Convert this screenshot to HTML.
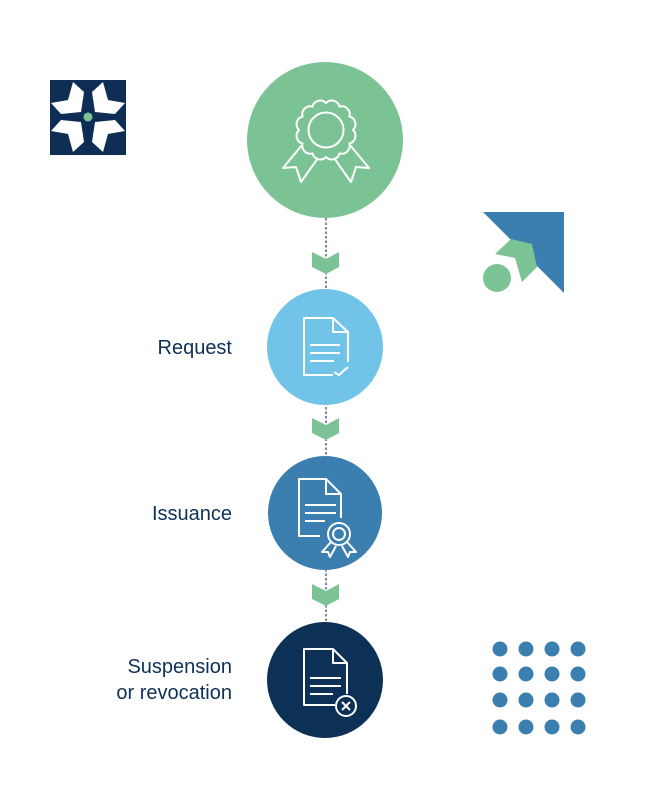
<!DOCTYPE html>
<html><head><meta charset="utf-8"><style>
html,body{margin:0;padding:0;background:#fff}
svg{display:block}
text{font-family:"Liberation Sans",sans-serif;fill:#0d3057;font-size:20px}
</style></head><body>
<svg width="650" height="800" viewBox="0 0 650 800" xmlns="http://www.w3.org/2000/svg">
<rect x="50" y="80" width="76" height="75" fill="#0d2d55"/>
<g fill="#fff">
<polygon id="p" points="73,82 84,92 81,112 61,114 51,103 68,100"/>
<use href="#p" transform="translate(176,0) scale(-1,1)"/>
<use href="#p" transform="translate(0,234) scale(1,-1)"/>
<use href="#p" transform="translate(176,234) scale(-1,-1)"/>
</g>
<circle cx="88" cy="117" r="4.5" fill="#7bc395"/>
<polygon points="483,212 564,212 564,293" fill="#3a7fb0"/>
<polygon points="511,239 532,244 537,267 522,282 515,258 495,254" fill="#7bc395"/>
<circle cx="497" cy="278" r="14" fill="#7bc395"/>
<g fill="#3a7fb0">
<circle cx="500" cy="649" r="7.5"/><circle cx="526" cy="649" r="7.5"/><circle cx="552" cy="649" r="7.5"/><circle cx="578" cy="649" r="7.5"/>
<circle cx="500" cy="674" r="7.5"/><circle cx="526" cy="674" r="7.5"/><circle cx="552" cy="674" r="7.5"/><circle cx="578" cy="674" r="7.5"/>
<circle cx="500" cy="700" r="7.5"/><circle cx="526" cy="700" r="7.5"/><circle cx="552" cy="700" r="7.5"/><circle cx="578" cy="700" r="7.5"/>
<circle cx="500" cy="727" r="7.5"/><circle cx="526" cy="727" r="7.5"/><circle cx="552" cy="727" r="7.5"/><circle cx="578" cy="727" r="7.5"/>
</g>
<line x1="326" y1="218" x2="326" y2="622" stroke="#2d4a6e" stroke-width="1.3" stroke-dasharray="2.5,2"/>
<g fill="#7bc395">
<polygon points="312,252 326,259 339,252 339,267 326,274 312,267"/>
<polygon points="312,418 326,425 339,418 339,433 326,440 312,433"/>
<polygon points="312,584 326,591 339,584 339,599 326,606 312,599"/>
</g>
<circle cx="325" cy="140" r="78" fill="#7bc395"/>
<circle cx="325" cy="347" r="58" fill="#71c4e8"/>
<circle cx="325" cy="513" r="57" fill="#3a7fb0"/>
<circle cx="325" cy="680" r="58" fill="#0d3057"/>
<g fill="none" stroke="#fff" stroke-width="2" stroke-linejoin="round">
<path d="M353,130 A8,8 0 0 1 349.4,143.5 A8,8 0 0 1 339.5,153.4 A8,8 0 0 1 326,157 A8,8 0 0 1 312.5,153.4 A8,8 0 0 1 302.6,143.5 A8,8 0 0 1 299,130 A8,8 0 0 1 302.6,116.5 A8,8 0 0 1 312.5,106.6 A8,8 0 0 1 326,103 A8,8 0 0 1 339.5,106.6 A8,8 0 0 1 349.4,116.5 A8,8 0 0 1 353,130z"/>
<circle cx="326" cy="130" r="17.5"/>
<path d="M302,145 L283,168 L296,167 L301,182 L318,158"/>
<path d="M350,145 L369,168 L356,167 L351,182 L334,158"/>
</g>
<g fill="none" stroke="#fff" stroke-width="2" stroke-linejoin="round">
<path d="M333,375 L304,375 L304,318 L333,318 L348,332 L348,362"/>
<path d="M333,318 L333,332 L348,332"/>
<path d="M310,345 L340,345 M310,353 L340,353 M310,361 L334,361"/>
<path d="M334,372 L339,375 L348,367"/>
</g>
<g fill="none" stroke="#fff" stroke-width="2" stroke-linejoin="round">
<path d="M320,536 L299,536 L299,479 L326,479 L341,494 L341,518"/>
<path d="M326,479 L326,494 L341,494"/>
<path d="M305,505 L336,505 M305,513 L336,513 M305,521 L325,521"/>
<circle cx="339" cy="534" r="11"/>
<circle cx="339" cy="534" r="6"/>
<path d="M331,542 L322,552 L328,552 L330,557 L336,546"/>
<path d="M347,542 L356,552 L350,552 L348,557 L342,546"/>
</g>
<g fill="none" stroke="#fff" stroke-width="2" stroke-linejoin="round">
<path d="M335,705 L304,705 L304,649 L333,649 L347,663 L347,694"/>
<path d="M333,649 L333,663 L347,663"/>
<path d="M310,678 L341,678 M310,686 L341,686 M310,694 L333,694"/>
<circle cx="346" cy="706" r="10"/>
<path d="M342,702 L350,710 M350,702 L342,710"/>
</g>
<text x="232" y="354" text-anchor="end">Request</text>
<text x="232" y="520" text-anchor="end">Issuance</text>
<text x="232" y="673" text-anchor="end">Suspension</text>
<text x="232" y="699" text-anchor="end">or revocation</text>
</svg>
</body></html>
